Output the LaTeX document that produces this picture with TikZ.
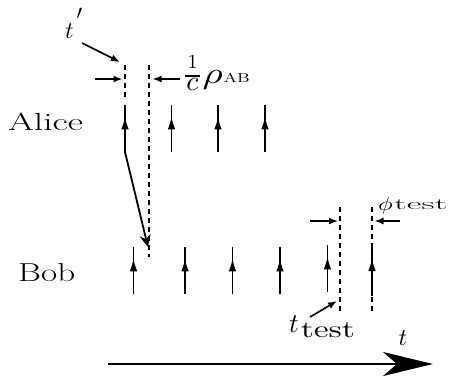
\RequirePackage{fix-cm}
\documentclass[tikz,border=0pt]{standalone}
\usetikzlibrary{arrows.meta,decorations.markings}
\begin{document}
\begin{tikzpicture}[x=1pt,y=-1pt,
  upar/.style={line width=1.8pt,postaction={decorate},
    decoration={markings,mark=at position 0.76 with {\arrow{Latex[length=13pt,width=7.5pt]}}}},
  dsh/.style={line width=1.8pt,dash pattern=on 4.5pt off 4.5pt},
  harr/.style={line width=1.6pt,-{Latex[length=9pt,width=7pt]}},
  lab/.style={inner sep=0pt,outer sep=0pt}]
\useasboundingbox (0,0) rectangle (453,376);
% labels
\node[lab] (alice) at (45.5,121.5) {\resizebox{75pt}{17.5pt}{\fontsize{25}{30}\selectfont Alice}};
\node[lab] (bob) at (46.7,272.5) {\resizebox{57pt}{18pt}{\fontsize{25}{30}\selectfont Bob}};
\node[lab,anchor=base west] (tp) at (65,38)
  {\scalebox{2.4}{$t$}\kern3pt\raisebox{19pt}{\scalebox{2.04}{$\prime$}}};
\node[lab,anchor=base west] (rho) at (185,83)
  {\rlap{\makebox[15pt]{\raisebox{15pt}{\scalebox{2}{1}}}}%
   \rlap{\rule[6pt]{15pt}{2.4pt}}%
   \makebox[15pt]{\raisebox{-7pt}{\scalebox{2.8}{$c$}}}\kern2.5pt%
   \scalebox{3.9}[3]{$\rho$}\kern1pt%
   \raisebox{1pt}{\scalebox{1.4}[1]{\fontsize{13}{15}\selectfont AB}}};
\node[lab,anchor=base west] (phi) at (378,210)
  {\scalebox{2.47}[1.9]{$\phi$}\kern1.5pt\raisebox{1pt}{\scalebox{1.2}[0.53]{\fontsize{30}{36}\selectfont test}}};
\node[lab,anchor=base west] (tt) at (289,332)
  {\scalebox{2.7}{$t$}\kern2pt\raisebox{-5pt}{\scalebox{3.36}[2.4]{test}}};
\node[lab,anchor=base west] (tax) at (398.5,345) {\scalebox{2.4}{$t$}};
% coordinates
\foreach \i/\x in {1/125,2/171.5,3/218,4/265}{
  \coordinate (ab\i) at (\x,152); \coordinate (at\i) at (\x,105);}
\foreach \i/\x in {1/133.5,2/185,3/232.5,4/280}{
  \coordinate (bb\i) at (\x,294); \coordinate (bt\i) at (\x,247);}
\coordinate (bb5) at (327.5,292); \coordinate (bt5) at (327.5,245);
\coordinate (bb6) at (372,296); \coordinate (bt6) at (372,246);
% dashed lines
\coordinate (d1t) at (125,65); \coordinate (d1b) at (125,101);
\coordinate (d2t) at (149,65); \coordinate (d2b) at (149,257);
\coordinate (d3t) at (340,207); \coordinate (d3b) at (340,313);
\coordinate (d4t) at (372,207); \coordinate (d4b) at (372,314);
\draw[dsh] (d1t) -- (d1b);
\draw[dsh] (d2t) -- (d2b);
\draw[dsh] (d3t) -- (d3b);
\draw[dsh] (d4t) -- (d4b);
% up arrows
\foreach \i in {1,...,4}{\draw[upar] (ab\i) -- (at\i);}
\foreach \i in {1,...,6}{\draw[upar] (bb\i) -- (bt\i);}
% signal Alice -> Bob
\coordinate (sig) at (148,247);
\draw[line width=1.8pt,-{Stealth[length=12pt,width=11pt]}] (ab1) -- (sig);
% horizontal markers
\coordinate (h1a) at (95,79); \coordinate (h1b) at (122.5,79);
\coordinate (h2a) at (180,79); \coordinate (h2b) at (152.5,79);
\coordinate (h3a) at (310,221); \coordinate (h3b) at (338,221);
\coordinate (h4a) at (400,221); \coordinate (h4b) at (374.5,221);
\draw[harr] (h1a) -- (h1b);
\draw[harr] (h2a) -- (h2b);
\draw[harr] (h3a) -- (h3b);
\draw[harr] (h4a) -- (h4b);
% label pointers
\coordinate (tpa) at (82,43); \coordinate (tpb) at (120,62);
\draw[harr] (tpa) -- (tpb);
\coordinate (tta) at (310,317); \coordinate (ttb) at (337,301);
\draw[harr] (tta) -- (ttb);
% time axis
\coordinate (ax0) at (108,364); \coordinate (ax1) at (433,364);
\draw[line width=2.2pt,-{Stealth[length=50pt,width=24pt,inset=14pt]}] (ax0) -- (ax1);
\end{tikzpicture}
\end{document}
